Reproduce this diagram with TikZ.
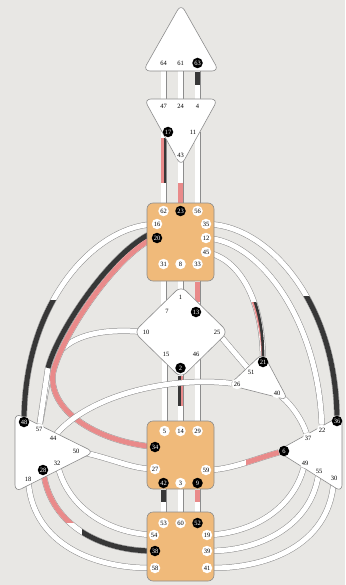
\documentclass[tikz,border=0pt]{standalone}
\usepackage{fontspec}
\setmainfont{Liberation Serif}
\usetikzlibrary{calc}
\definecolor{paper}{RGB}{232,231,228}
\definecolor{ochre}{RGB}{240,186,122}
\definecolor{rose}{RGB}{233,138,138}
\definecolor{coal}{RGB}{55,55,55}
\definecolor{rim}{RGB}{140,140,140}
\pgfdeclarelayer{ground}
\pgfdeclarelayer{chans}
\pgfsetlayers{ground,chans,main}

\begin{document}
\begin{tikzpicture}[x=1pt, y=-1pt,
	hub/.style={draw=rim, line width=0.6pt, fill=white, rounded corners=7pt, line join=round},
	hubbox/.style={hub, fill=ochre, rounded corners=6pt},
	gate/.style={circle, fill=white, inner sep=0pt, minimum size=10.5pt, font=\fontsize{6.5}{7}\selectfont},
	gon/.style={gate, fill=black, text=white},
	chan/.style={draw=rim, line width=0.5pt, double=white, double distance=5pt},
	des/.style={draw=coal, line width=5pt},
	pers/.style={draw=rose, line width=5pt},
	half/.style={line width=2.6pt}]

	\useasboundingbox (0,0) rectangle (345,585);
	\begin{pgfonlayer}{ground}
	\fill[paper] (0,0) rectangle (345,585);
	\end{pgfonlayer}

	% centres
	\draw[hub] (181,4) -- (219,71) -- (143,71) -- cycle;
	\draw[hub] (144,99) -- (218,99) -- (181,166) -- cycle;
	\draw[hubbox] (147,203) rectangle (214,281);
	\draw[hub] (181,286) -- (228,332) -- (181,378) -- (134,332) -- cycle;
	\draw[hub] (263,353) -- (288,400) -- (229,385) -- cycle;
	\draw[hubbox] (147,421) rectangle (214,489);
	\draw[hubbox] (147,512) rectangle (214,581);
	\draw[hub] (15,413) -- (94,452) -- (15,492) -- cycle;
	\draw[hub] (342,415) -- (342,492) -- (277,451) -- cycle;

	% head
	\node[gate] (g64) at (163.5,63) {64};
	\node[gate] (g61) at (180.5,63) {61};
	\node[gon] (g63) at (197.5,63) {63};
	% ajna
	\node[gate] (g47) at (163.5,106) {47};
	\node[gate] (g24) at (180.5,106) {24};
	\node[gate] (g4) at (197.5,106) {4};
	\node[gon] (g17) at (168,132) {17};
	\node[gate] (g11) at (193,132) {11};
	\node[gate] (g43) at (180.5,155) {43};
	% throat
	\node[gate] (g62) at (163.5,211) {62};
	\node[gon] (g23) at (180.5,211) {23};
	\node[gate] (g56) at (197.5,211) {56};
	\node[gate] (g16) at (157,224) {16};
	\node[gate] (g35) at (206,224) {35};
	\node[gon] (g20) at (157,238) {20};
	\node[gate] (g12) at (206,238) {12};
	\node[gate] (g45) at (206,252) {45};
	\node[gate] (g31) at (163.5,264) {31};
	\node[gate] (g8) at (180.5,264) {8};
	\node[gate] (g33) at (197.5,264) {33};
	% g centre
	\node[gate] (g1) at (180.5,297) {1};
	\node[gate] (g7) at (167,311) {7};
	\node[gon] (g13) at (196,312) {13};
	\node[gate] (g10) at (146,332) {10};
	\node[gate] (g25) at (217,332) {25};
	\node[gate] (g15) at (166,354) {15};
	\node[gate] (g46) at (196,354) {46};
	\node[gon] (g2) at (180.5,368) {2};
	% heart
	\node[gon] (g21) at (263,362) {21};
	\node[gate] (g51) at (251,372) {51};
	\node[gate] (g26) at (237,384) {26};
	\node[gate] (g40) at (277,393) {40};
	% sacral
	\node[gate] (g5) at (164.5,431) {5};
	\node[gate] (g14) at (180.5,431) {14};
	\node[gate] (g29) at (197.5,431) {29};
	\node[gon] (g34) at (155,447) {34};
	\node[gate] (g27) at (155,469) {27};
	\node[gate] (g59) at (206,470) {59};
	\node[gon] (g42) at (163.5,483) {42};
	\node[gate] (g3) at (180.5,483) {3};
	\node[gon] (g9) at (197.5,483) {9};
	% root
	\node[gate] (g53) at (163.5,523) {53};
	\node[gate] (g60) at (180.5,523) {60};
	\node[gon] (g52) at (197.5,523) {52};
	\node[gate] (g54) at (154,535) {54};
	\node[gate] (g19) at (207,535) {19};
	\node[gon] (g38) at (155,551) {38};
	\node[gate] (g39) at (207,551) {39};
	\node[gate] (g58) at (155,568) {58};
	\node[gate] (g41) at (207,568) {41};
	% spleen
	\node[gon] (g48) at (24,422) {48};
	\node[gate] (g57) at (39,429) {57};
	\node[gate] (g44) at (53,438) {44};
	\node[gate] (g50) at (76,451) {50};
	\node[gate] (g32) at (57,463) {32};
	\node[gon] (g28) at (43,470) {28};
	\node[gate] (g18) at (28,479) {18};
	% solar plexus
	\node[gon] (g36) at (337,421) {36};
	\node[gate] (g22) at (322,430) {22};
	\node[gate] (g37) at (308,438) {37};
	\node[gon] (g6) at (284,451) {6};
	\node[gate] (g49) at (305,463) {49};
	\node[gate] (g55) at (319,471) {55};
	\node[gate] (g30) at (334,478) {30};

	\begin{pgfonlayer}{chans}
	% head - ajna
	\draw[chan] (g64) -- (g47);
	\draw[chan] (g61) -- (g24);
	\draw[chan] (g63) -- (g4);
	\draw[des] (g63) ++(0,9) -- ++(0,13);
	% ajna - throat
	\draw[chan] (g62 |- g17) -- (g62);
	\draw[chan] (g43) -- (g23);
	\draw[chan] (g56 |- g11) -- (g56);
	\draw[pers, half] (g62 |- g17) ++(-1.3,6) -- ++(0,45);
	\draw[des, half] (g62 |- g17) ++(1.3,6) -- ++(0,45);
	\draw[pers] (g23) ++(0,-28) -- ++(0,22);
	% throat - g
	\draw[chan] (g31) -- (g31 |- g7);
	\draw[chan] (g8) -- (g1);
	\draw[chan] (g33) -- (g33 |- g13);
	\draw[pers] (g33 |- g13) ++(0,-30) -- ++(0,20);
	% g - sacral
	\draw[chan] (g5 |- g15) -- (g5);
	\draw[chan] (g2) -- (g14);
	\draw[chan] (g29 |- g46) -- (g29);
	\draw[des, half] (g2) ++(-1.3,8) -- ++(0,30);
	\draw[pers, half] (g2) ++(1.3,8) -- ++(0,30);
	% sacral - root
	\draw[chan] (g42) -- (g53);
	\draw[chan] (g3) -- (g60);
	\draw[chan] (g9) -- (g52);
	\draw[des] (g42) ++(0,7) -- ++(0,12);
	\draw[pers] (g9) ++(0,7) -- ++(0,12);

	% left arcs
	\draw[chan] (g16) .. controls (95,228) and (26,300) .. (g48);
	\begin{scope}
	\clip (0,300) rectangle (150,430);
	\draw[des] (g16) .. controls (95,228) and (26,300) .. (g48);
	\end{scope}
	\draw[chan] (g10) .. controls (95,328) and (60,338) .. (50,368) -- (g57);
	\draw[chan] ($(g20)+(-9,-3)$) .. controls (106,258) and (56,335) .. (48,368) -- (g57);
	\draw[chan] ($(g20)+(-9,3)$) .. controls (111,263) and (61,337) .. (53,373) .. controls (48,410) and (95,440) .. (g34);
	\begin{scope}
	\clip (0,200) rectangle (147,368);
	\draw[des] ($(g20)+(-9,-3)$) .. controls (106,258) and (56,335) .. (48,368);
	\end{scope}
	\draw[pers] ($(g20)+(-9,3)$) .. controls (111,263) and (61,337) .. (53,373) .. controls (48,410) and (95,440) .. (g34);

	% right arcs
	\draw[chan] (g35) .. controls (268,228) and (335,300) .. (g36);
	\begin{scope}
	\clip (200,296) rectangle (345,430);
	\draw[des] (g35) .. controls (268,228) and (335,300) .. (g36);
	\end{scope}
	\draw[chan] (g12) .. controls (262,245) and (318,322) .. (g22);
	\draw[chan] (g45) .. controls (240,262) and (262,300) .. (g21);
	\begin{scope}
	\clip (200,302) rectangle (300,356);
	\draw[pers, half, xshift=-1.3pt] (g45) .. controls (240,262) and (262,300) .. (g21);
	\draw[des, half, xshift=1.3pt] (g45) .. controls (240,262) and (262,300) .. (g21);
	\end{scope}

	% heart and sides
	\draw[chan] (g25) -- (g51);
	\draw[chan] (g44) .. controls (90,395) and (170,376) .. (g26);
	\draw[chan] (g40) .. controls (292,405) and (302,420) .. (g37);
	\draw[chan] (g50) .. controls (110,458) and (130,468) .. (g27);
	\draw[chan] (g6) .. controls (258,458) and (232,469) .. (g59);
	\begin{scope}
	\clip (246,440) rectangle (300,480);
	\draw[pers] (g6) .. controls (258,458) and (232,469) .. (g59);
	\end{scope}

	% spleen - root
	\draw[chan] (g32) .. controls (70,510) and (110,532) .. (g54);
	\draw[chan] (g28) .. controls (52,525) and (100,550) .. (g38);
	\draw[chan] (g18) .. controls (35,545) and (95,568) .. (g58);
	\begin{scope}
	\clip (0,460) rectangle (150,522);
	\draw[pers] (g28) .. controls (52,525) and (100,550) .. (g38);
	\end{scope}
	\begin{scope}
	\clip (82,500) rectangle (150,560);
	\draw[des] (g28) .. controls (52,525) and (100,550) .. (g38);
	\end{scope}

	% solar plexus - root
	\draw[chan] (g49) .. controls (292,510) and (252,532) .. (g19);
	\draw[chan] (g55) .. controls (310,525) and (262,550) .. (g39);
	\draw[chan] (g30) .. controls (328,545) and (268,568) .. (g41);
	\end{pgfonlayer}
\end{tikzpicture}
\end{document}
